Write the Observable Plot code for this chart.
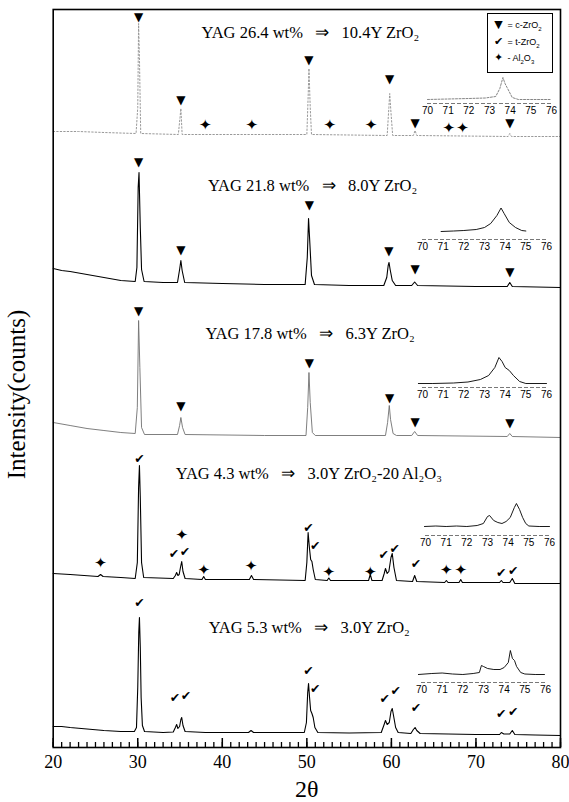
<!DOCTYPE html>
<html><head><meta charset="utf-8">
<script src="https://cdn.jsdelivr.net/npm/d3@7"></script>
<script src="https://cdn.jsdelivr.net/npm/@observablehq/plot@0.6"></script>
<style>
body{margin:0;background:#fff;}
#wrap{position:relative;width:569px;height:802px;overflow:hidden;background:#fff;}
#wrap svg{position:absolute;left:0;top:0;}
#legend{position:absolute;left:487px;top:13px;width:64px;height:55px;border:1.8px solid #000;background:#fff;
  font-family:'Liberation Sans',Arial,sans-serif;font-size:9px;color:#000;padding-top:3px;}
#legend .row{height:16.5px;line-height:16.5px;white-space:nowrap;padding-left:4px;}
#legend .sym{font-family:'DejaVu Sans';font-size:11px;display:inline-block;width:13px;text-align:center;}
</style></head><body><div id="wrap"></div>
<script>
// ---- sample labels ----
const samples = ["YAG 26.4 wt%", "YAG 21.8 wt%", "YAG 17.8 wt%", "YAG 4.3 wt%", "YAG 5.3 wt%"];
const products = ["10.4Y ZrO₂", "8.0Y ZrO₂", "6.3Y ZrO₂", "3.0Y ZrO₂-20 Al₂O₃", "3.0Y ZrO₂"];
const xTicks = [20, 30, 40, 50, 60, 70, 80];
const insetTicks = [70, 71, 72, 73, 74, 75, 76];

// ---- diffraction patterns: [2θ, intensity (a.u., stacked)] ----
const yag264 = [[20,616],[23,616],[26,615],[29.8,614],[30.0,640],[30.1,724],[30.2,690],[30.35,614],[34.8,613],[35.0,630],[35.1,639],[35.25,613],[38,613],[50.0,613],[50.15,650],[50.25,679],[50.4,640],[50.55,613],[59.5,612],[59.7,640],[59.8,654],[59.95,635],[60.15,612],[62.6,612],[62.8,617],[63.0,612],[73.8,611],[74.0,614],[74.2,611],[80,611]];
const yag218 = [[20,479],[21,477],[22,476],[24,473],[26,470],[28,467],[29.7,466],[29.9,480],[30.05,560],[30.15,575],[30.3,520],[30.45,478],[30.75,466],[33,465],[34.7,465],[34.95,478],[35.1,487],[35.25,477],[35.55,465],[40,464],[45,463],[49.8,463],[50.05,490],[50.2,529],[50.35,505],[50.55,472],[50.9,463],[55,462],[59.1,462],[59.45,470],[59.62,482],[59.72,485],[59.85,478],[60.1,467],[60.5,462],[62.4,462],[62.75,465.5],[63.1,462],[70,461],[73.7,461],[74.0,465],[74.3,461],[80,460]];
const yag178 = [[20,325],[22,322],[24,319],[26,317],[28,315],[29.7,314],[29.95,340],[30.1,427],[30.25,380],[30.45,320],[30.8,313],[34.7,313],[34.95,322],[35.1,330],[35.3,320],[35.6,313],[45,312],[49.9,312],[50.1,340],[50.25,375],[50.4,345],[50.65,315],[51,312],[59.3,312],[59.55,325],[59.75,342],[59.9,328],[60.2,314],[60.6,312],[62.4,312],[62.75,316],[63.1,312],[73.7,311],[74.0,314],[74.3,311],[80,310]];
const yag43 = [[20,174],[22,173],[25.3,171],[25.6,173],[25.9,171],[28,170],[29.7,169],[29.95,185],[30.1,260],[30.2,282],[30.3,250],[30.45,185],[30.7,170],[34.2,169],[34.45,172],[34.6,175],[34.75,172],[34.9,173],[35.05,180],[35.2,186],[35.35,176],[35.6,169],[37.6,168],[37.8,171],[38.0,168],[43.2,168],[43.45,172],[43.7,168],[49.8,167],[50.0,185],[50.15,215],[50.3,200],[50.45,188],[50.6,186],[50.75,178],[51.0,168],[52.4,167],[52.6,169.5],[52.8,167],[57.3,167],[57.5,173],[57.7,167],[58.9,167],[59.15,174],[59.3,179],[59.5,174],[59.7,176],[59.95,190],[60.1,194],[60.3,180],[60.6,167],[62.5,166],[62.75,172],[63.0,166],[66.3,165],[66.5,167],[66.7,165],[68.0,165],[68.2,168],[68.4,165],[72.8,165],[73.0,167],[73.2,165],[74.0,165],[74.3,169],[74.6,164],[80,164]];
const yag53 = [[20,21],[21,21],[22,20],[24,18.5],[26,17],[28,16],[29.6,16],[29.85,20],[30.0,60],[30.12,115],[30.2,130],[30.3,100],[30.4,50],[30.55,22],[30.8,16],[33,15],[34.2,15.5],[34.45,20],[34.6,23],[34.75,19],[34.95,21],[35.1,28],[35.2,30],[35.35,22],[35.6,16],[38,15],[43.1,15],[43.4,17],[43.7,15],[49.7,15],[49.95,25],[50.1,55],[50.2,64],[50.32,50],[50.45,37],[50.6,34],[50.75,30],[50.95,20],[51.3,15],[55,14.5],[58.8,15],[59.1,22],[59.3,27],[59.5,23],[59.75,25],[59.95,36],[60.1,39],[60.25,32],[60.5,20],[60.8,15],[62.3,14],[62.6,18],[62.8,20],[63.0,17],[63.4,14],[70,13],[72.8,13],[73.0,15],[73.3,13.5],[74.0,13.5],[74.3,17],[74.6,13],[77,12.5],[80,12]];

// ---- inset patterns 70–76° : [2θ, intensity] ----
const inset264 = [[70,4],[71,4.5],[72,5],[72.8,5.5],[73.3,7],[73.5,15],[73.65,26],[73.75,20],[73.85,16],[73.95,12],[74.1,6],[74.4,4],[75,4],[76,4]];
const inset218 = [[70.9,8],[71.5,8.5],[72,9],[72.6,10],[73.0,12],[73.3,16],[73.6,24],[73.8,31.5],[73.95,26],[74.2,17],[74.5,12],[74.8,9],[75.0,8.5]];
const inset178 = [[69.8,4],[70.5,4],[71.5,4.5],[72.2,5.5],[72.8,8],[73.2,12],[73.5,20],[73.7,30],[73.85,26],[74.0,20],[74.2,17],[74.4,12],[74.7,6],[75,4],[76,4]];
const inset43 = [[69.95,9],[70.5,9.5],[71,9],[71.5,9.5],[72,9],[72.5,10],[72.8,12],[73.0,19],[73.1,20],[73.3,15],[73.5,13],[73.7,12],[73.9,14],[74.1,18],[74.3,28],[74.4,32],[74.55,26],[74.7,18],[74.85,12],[75,9.5],[75.5,9],[76,9]];
const inset53 = [[69.85,8],[70.5,9],[71,9.5],[71.5,8.5],[72,8],[72.5,9],[72.8,10],[72.9,17],[73.0,16],[73.2,14],[73.5,13],[73.8,13],[74.0,15],[74.2,20],[74.3,32],[74.4,24],[74.5,22],[74.6,16],[74.8,10],[75.0,8.5],[75.5,8],[75.95,8]];

// ---- phase markers: [2θ, level] ----
const cubicMarks = [[30.1,730],[35.1,647],[50.25,687],[59.8,668],[62.8,624],[74.0,624],
  [30.1,585],[35.1,497],[50.3,542],[59.7,496],[62.8,478],[74.0,475],
  [30.1,436],[35.1,341],[50.3,384],[59.8,349],[62.8,325],[74.0,324]];
const tetragonalMarks = [[30.2,289],[34.3,194],[35.6,196],[50.2,220],[51.0,202],[59.1,193],[60.4,199],[62.9,184],[73.0,175],[74.4,177],
  [30.2,145],[34.4,50],[35.7,52],[50.2,77],[51.0,59],[59.2,49],[60.5,57],[62.9,40],[73.0,34],[74.4,36]];
const aluminaMarks = [[38.0,622],[43.5,622],[52.7,622],[57.6,622],[66.8,619],[68.4,619],
  [25.6,184],[35.2,212],[37.8,177],[43.4,181],[52.6,175],[57.5,175],[66.5,177],[68.2,177]];

// ---- layout (not data) ----
const labelAt = [[37.55,715],[38.3,562],[38.0,414],[34.5,274],[38.4,120]];
const insetLeft = [417, 412, 412, 415, 411];
const insetAxisTop = [103, 238.5, 387, 535, 682];

const traces = [yag264, yag218, yag178, yag43, yag53];
const insets = [inset264, inset218, inset178, inset43, inset53];
const rows = traces.flatMap((pts, i) => pts.map(([x, y]) => ({x, y, trace: i})));
const titles = samples.map((s, i) => ({x: labelAt[i][0], y: labelAt[i][1],
  text: s + "\u00a0\u00a0\u00a0⇒\u00a0\u00a0\u00a0" + products[i]}));

const serif = "'Liberation Serif','Times New Roman',serif";
const sym = "DejaVu Sans";

const main = Plot.plot({
  width: 569, height: 802,
  marginLeft: 52.7, marginRight: 9, marginTop: 9, marginBottom: 55,
  style: {fontFamily: serif, background: "#fff", color: "#000"},
  x: {domain: [20, 80]},
  y: {domain: [0, 738], axis: null},
  marks: [
    Plot.line(rows.filter(d => d.trace === 0), {x: "x", y: "y", stroke: "#999", strokeWidth: 1, strokeDasharray: "1.5,2"}),
    Plot.line(rows.filter(d => d.trace === 2), {x: "x", y: "y", stroke: "#707070", strokeWidth: 0.9}),
    Plot.line(rows.filter(d => d.trace === 1 || d.trace >= 3), {x: "x", y: "y", z: "trace", stroke: "#000", strokeWidth: 1.1}),
    Plot.text(cubicMarks, {x: d => d[0], y: d => d[1], text: () => "▼", fontFamily: sym, fontSize: 12, fill: "#000"}),
    Plot.text(tetragonalMarks, {x: d => d[0], y: d => d[1], text: () => "✔", fontFamily: sym, fontSize: 12.5, fill: "#000"}),
    Plot.text(aluminaMarks, {x: d => d[0], y: d => d[1], text: () => "✦", fontFamily: sym, fontSize: 15, fill: "#000"}),
    Plot.text(titles, {x: "x", y: "y", text: "text", textAnchor: "start", fontSize: 16.5, fill: "#000"}),
    Plot.ruleX(d3.range(20, 81, 1), {x: d => d, y1: 0, y2: 5, stroke: "#000", strokeWidth: 1.3}),
    Plot.ruleX(xTicks, {x: d => d, y1: 0, y2: 9, stroke: "#000", strokeWidth: 1.5}),
    Plot.axisX({ticks: xTicks, tickSize: 0, tickPadding: 8, fontSize: 18, label: null, tickFormat: d3.format("d")}),
    Plot.text(["2θ"], {frameAnchor: "bottom", dy: 42, lineAnchor: "middle", text: d => d, fontSize: 24, fill: "#000"}),
    Plot.text(["Intensity(counts)"], {frameAnchor: "left", dx: -36, dy: 16, rotate: -90, textAnchor: "middle", lineAnchor: "middle", text: d => d, fontSize: 25, fill: "#000"}),
    Plot.frame({stroke: "#000", strokeWidth: 1.6})
  ]
});
const wrap = document.getElementById("wrap");
wrap.appendChild(main);

insets.forEach((pts, i) => {
  const p = Plot.plot({
    width: 150, height: 52,
    marginLeft: 10, marginRight: 16, marginTop: 4, marginBottom: 16,
    style: {fontFamily: "'Liberation Sans',Arial,sans-serif", background: "transparent", color: "#000"},
    x: {domain: [70, 76]},
    y: {domain: [0, 32], axis: null},
    marks: [
      Plot.ruleY([0], {stroke: "#555", strokeWidth: 0.8, strokeDasharray: "4,2"}),
      Plot.line(pts, {x: d => d[0], y: d => d[1], stroke: i === 0 ? "#777" : "#000", strokeWidth: 0.9,
        strokeDasharray: i === 0 ? "2,1.5" : null}),
      Plot.axisX({ticks: insetTicks, tickSize: 0, tickPadding: 3, fontSize: 10, label: null, tickFormat: d3.format("d")})
    ]
  });
  p.style.left = insetLeft[i] + "px";
  p.style.top = (insetAxisTop[i] - 36) + "px";
  wrap.appendChild(p);
});

const legend = document.createElement("div");
legend.id = "legend";
legend.innerHTML =
  '<div class="row"><span class="sym">▼</span> = c-ZrO<sub style="font-size:6px">2</sub></div>' +
  '<div class="row"><span class="sym">✔</span> = t-ZrO<sub style="font-size:6px">2</sub></div>' +
  '<div class="row"><span class="sym">✦</span> - Al<sub style="font-size:6px">2</sub>O<sub style="font-size:6px">3</sub></div>';
wrap.appendChild(legend);
</script></body></html>
